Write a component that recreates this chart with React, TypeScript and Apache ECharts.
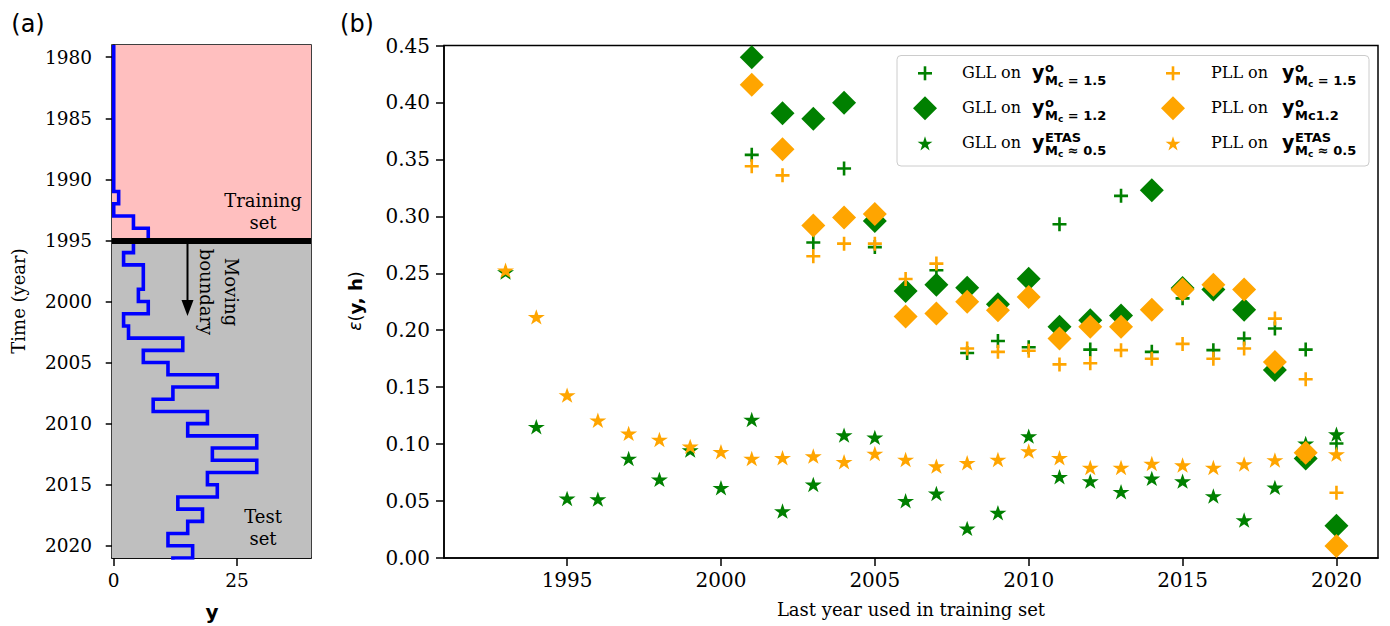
import React, { useEffect, useRef } from "react";
import * as echarts from "echarts";

// ---------- Panel (a): yearly counts (step line) ----------
const countYears = [
  1979, 1980, 1981, 1982, 1983, 1984, 1985, 1986, 1987, 1988, 1989, 1990,
  1991, 1992, 1993, 1994, 1995, 1996, 1997, 1998, 1999, 2000, 2001, 2002,
  2003, 2004, 2005, 2006, 2007, 2008, 2009, 2010, 2011, 2012, 2013, 2014,
  2015, 2016, 2017, 2018, 2019, 2020, 2021,
];
const counts = [
  0, 0, 0, 0, 0, 0, 0, 0, 0, 0, 0, 0,
  1, 0, 4, 7, 4, 2, 6, 6, 5, 7, 2, 3,
  14, 6, 11, 21, 12, 8, 19, 15, 29, 20, 29, 19,
  21, 13, 18, 15, 11, 16, 12,
];
const timeTicks = [1980, 1985, 1990, 1995, 2000, 2005, 2010, 2015, 2020];
const countTicks = [0, 25];
const boundaryYear = 1995;

// ---------- Panel (b): errors ----------
const starYears = [
  1993, 1994, 1995, 1996, 1997, 1998, 1999, 2000, 2001, 2002, 2003, 2004,
  2005, 2006, 2007, 2008, 2009, 2010, 2011, 2012, 2013, 2014, 2015, 2016,
  2017, 2018, 2019, 2020,
];
const obsYears = [
  2001, 2002, 2003, 2004, 2005, 2006, 2007, 2008, 2009, 2010, 2011, 2012,
  2013, 2014, 2015, 2016, 2017, 2018, 2019, 2020,
];
const gllPlus = [
  0.354, 0.358, 0.277, 0.342, 0.273, 0.236, 0.2526, 0.18, 0.1906, 0.185,
  0.293, 0.183, 0.318, 0.181, 0.228, 0.1825, 0.1927, 0.2015, 0.183, 0.1006,
];
const pllPlus = [
  0.344, 0.336, 0.265, 0.276, 0.276, 0.245, 0.2585, 0.184, 0.181, 0.182,
  0.17, 0.171, 0.1825, 0.175, 0.188, 0.175, 0.184, 0.2102, 0.157, 0.0573,
];
const gllDiamond = [
  0.4397, 0.3906, 0.3857, 0.3997, 0.296, 0.2345, 0.24, 0.2374, 0.2228, 0.2453,
  0.203, 0.2088, 0.213, 0.323, 0.237, 0.2357, 0.218, 0.165, 0.0874, 0.0284,
];
const pllDiamond = [
  0.4155, 0.359, 0.292, 0.299, 0.302, 0.212, 0.2146, 0.2249, 0.2175, 0.2292,
  0.1927, 0.203, 0.203, 0.218, 0.2357, 0.24, 0.2357, 0.172, 0.0924, 0.0105,
];
const gllStar = [
  0.251, 0.1152, 0.0523, 0.0517, 0.0874, 0.069, 0.0947, 0.0617, 0.1216, 0.0412,
  0.0646, 0.1079, 0.1059, 0.0503, 0.0567, 0.026, 0.0398, 0.107, 0.0713, 0.0675,
  0.0582, 0.0699, 0.0675, 0.0544, 0.0333, 0.062, 0.1006, 0.1088,
];
const pllStar = [
  0.2526, 0.2117, 0.143, 0.121, 0.1094, 0.104, 0.098, 0.0933, 0.0874, 0.088,
  0.0895, 0.0845, 0.0918, 0.0865, 0.0807, 0.0836, 0.0865, 0.0939, 0.088, 0.0795,
  0.0795, 0.083, 0.0816, 0.0795, 0.0825, 0.086, 0.092, 0.0912,
];
const yearTicks = [1995, 2000, 2005, 2010, 2015, 2020];

// ---------- styles ----------
const SERIF = '"DejaVu Serif", serif';
const SANS = '"DejaVu Sans", sans-serif';
const GREEN = "#008000";
const ORANGE = "#FFA500";
const BLUE = "#0000FF";
const PINK = "#FFBFBF";
const GREY = "#BFBFBF";

const starPoints = (cx: number, cy: number, R: number) => {
  const pts: number[][] = [];
  for (let i = 0; i < 10; i++) {
    const a = ((-90 + 36 * i) * Math.PI) / 180;
    const r = i % 2 === 0 ? R : R * 0.381966;
    pts.push([cx + r * Math.cos(a), cy + r * Math.sin(a)]);
  }
  return pts;
};
const STAR_PATH =
  "path://" +
  starPoints(0, 0, 10)
    .map((p, i) => (i === 0 ? "M" : "L") + p[0].toFixed(3) + " " + p[1].toFixed(3))
    .join(" ") +
  " Z";
const PLUS_PATH =
  "path://M5.7,0 H8.3 V5.7 H14 V8.3 H8.3 V14 H5.7 V8.3 H0 V5.7 H5.7 Z";

const pair = (xs: number[], ys: number[]) => xs.map((x, i) => [x, ys[i]]);

const stepPoints: number[][] = [];
countYears.forEach((y, i) => {
  stepPoints.push([counts[i], y]);
  stepPoints.push([counts[i], y + 1]);
});

const tickFontA = { fontFamily: SERIF, fontSize: 18.5, color: "#000" };
const tickFontB = { fontFamily: SERIF, fontSize: 20, color: "#000" };
const blackLine = { color: "#000", width: 1.5 };

// ---------- legend (graphic) ----------
const legendRows = [73.3, 108.3, 143.3];
const legendCols = [
  { mx: 925, tx: 962, yx: 1032, name: "GLL on", color: GREEN },
  { mx: 1173, tx: 1211, yx: 1282, name: "PLL on", color: ORANGE },
];
const subRich = {
  m: { fontFamily: SANS, fontWeight: "bold", fontSize: 13, fill: "#000", lineHeight: 16 },
  c: { fontFamily: SANS, fontWeight: "bold", fontSize: 9, fill: "#000", verticalAlign: "bottom", lineHeight: 16 },
};
const legendScripts = [
  [
    { sup: "o", sub: "{m|M}{c|c}{m| = 1.5}" },
    { sup: "o", sub: "{m|M}{c|c}{m| = 1.2}" },
    { sup: "ETAS", sub: "{m|M}{c|c}{m| ≈ 0.5}" },
  ],
  [
    { sup: "o", sub: "{m|M}{c|c}{m| = 1.5}" },
    { sup: "o", sub: "{m|Mc1.2}" },
    { sup: "ETAS", sub: "{m|M}{c|c}{m| ≈ 0.5}" },
  ],
];

function legendGraphics() {
  const els: any[] = [
    {
      type: "rect",
      shape: { x: 897, y: 55.5, width: 472, height: 110.5, r: 4 },
      style: { fill: "rgba(255,255,255,0.8)", stroke: "#cccccc", lineWidth: 1 },
      z: 100,
    },
  ];
  legendCols.forEach((col, ci) => {
    legendRows.forEach((ry, ri) => {
      if (ri === 0) {
        els.push({ type: "rect", shape: { x: col.mx - 7, y: ry - 1.3, width: 14, height: 2.6 }, style: { fill: col.color }, z: 101 });
        els.push({ type: "rect", shape: { x: col.mx - 1.3, y: ry - 7, width: 2.6, height: 14 }, style: { fill: col.color }, z: 101 });
      } else if (ri === 1) {
        els.push({
          type: "polygon",
          shape: { points: [[col.mx, ry - 12], [col.mx + 12, ry], [col.mx, ry + 12], [col.mx - 12, ry]] },
          style: { fill: col.color },
          z: 101,
        });
      } else {
        els.push({ type: "polygon", shape: { points: starPoints(col.mx, ry + 0.8, 7.8) }, style: { fill: col.color }, z: 101 });
      }
      els.push({
        type: "text", x: col.tx, y: ry - 1, z: 101,
        style: { text: col.name, font: `16px ${SERIF}`, fill: "#000", align: "left", verticalAlign: "middle" },
      });
      els.push({
        type: "text", x: col.yx, y: ry - 1, z: 101,
        style: { text: "y", font: `bold 19px ${SANS}`, fill: "#000", align: "left", verticalAlign: "middle" },
      });
      const sc = legendScripts[ci][ri];
      els.push({
        type: "text", x: col.yx + 13, y: ry - 6, z: 101,
        style: { text: sc.sup, font: `bold 13px ${SANS}`, fill: "#000", align: "left", verticalAlign: "middle" },
      });
      els.push({
        type: "text", x: col.yx + 13, y: ry + 7.5, z: 101,
        style: { text: sc.sub, rich: subRich, fill: "#000", align: "left", verticalAlign: "middle" },
      });
    });
  });
  return els;
}

const scatterBase = { type: "scatter", xAxisIndex: 1, yAxisIndex: 1, silent: true };

function buildOption(): any {
  return {
    animation: false,
    backgroundColor: "#fff",
    grid: [
      { left: 112, top: 45, width: 199, height: 513, show: true, borderColor: "#000", borderWidth: 1.5, backgroundColor: "transparent" },
      { left: 444, top: 45.5, width: 934, height: 512.5, show: true, borderColor: "#000", borderWidth: 1.5, backgroundColor: "transparent" },
    ],
    xAxis: [
      {
        gridIndex: 0, type: "value", min: -0.35, max: 40,
        axisLine: { show: true, lineStyle: blackLine },
        axisTick: { show: true, length: 8, lineStyle: blackLine, customValues: countTicks },
        axisLabel: { ...tickFontA, margin: 13, customValues: countTicks, formatter: (v: number) => String(v) },
        splitLine: { show: false },
      },
      {
        gridIndex: 1, type: "value", min: 1991, max: 2021.35,
        axisLine: { show: true, lineStyle: blackLine },
        axisTick: { show: true, length: 8, lineStyle: blackLine, customValues: yearTicks },
        axisLabel: { ...tickFontB, margin: 12, customValues: yearTicks, formatter: (v: number) => String(v) },
        splitLine: { show: false },
      },
    ],
    yAxis: [
      {
        gridIndex: 0, type: "value", min: 1979, max: 2021, inverse: true,
        axisLine: { show: true, lineStyle: blackLine },
        axisTick: { show: true, length: 8, lineStyle: blackLine, customValues: timeTicks },
        axisLabel: { ...tickFontA, margin: 20, customValues: timeTicks, formatter: (v: number) => String(v) },
        splitLine: { show: false },
      },
      {
        gridIndex: 1, type: "value", min: 0, max: 0.45, interval: 0.05,
        axisLine: { show: true, lineStyle: blackLine },
        axisTick: { show: true, length: 8, lineStyle: blackLine },
        axisLabel: { ...tickFontB, margin: 14, formatter: (v: number) => v.toFixed(2) },
        splitLine: { show: false },
      },
    ],
    series: [
      {
        type: "line", xAxisIndex: 0, yAxisIndex: 0, data: stepPoints, symbol: "none",
        lineStyle: { color: BLUE, width: 3.6, join: "miter" }, clip: true, silent: true,
        markArea: {
          silent: true,
          data: [
            [{ yAxis: 1979, itemStyle: { color: PINK, opacity: 1 } }, { yAxis: boundaryYear }],
            [{ yAxis: boundaryYear, itemStyle: { color: GREY, opacity: 1 } }, { yAxis: 2021 }],
          ],
        },
        markLine: {
          silent: true, symbol: ["none", "none"], label: { show: false },
          lineStyle: { color: "#000", width: 6, type: "solid", opacity: 1 },
          data: [{ yAxis: boundaryYear }],
        },
      },
      { ...scatterBase, name: "GLL plus", data: pair(obsYears, gllPlus), symbol: PLUS_PATH, symbolSize: 14, itemStyle: { color: GREEN, opacity: 1 } },
      { ...scatterBase, name: "GLL diamond", data: pair(obsYears, gllDiamond), symbol: "diamond", symbolSize: 24, itemStyle: { color: GREEN, opacity: 1 } },
      { ...scatterBase, name: "GLL star", data: pair(starYears, gllStar), symbol: STAR_PATH, symbolSize: [17, 16.2], symbolKeepAspect: true, itemStyle: { color: GREEN, opacity: 1 } },
      { ...scatterBase, name: "PLL plus", data: pair(obsYears, pllPlus), symbol: PLUS_PATH, symbolSize: 14, itemStyle: { color: ORANGE, opacity: 1 } },
      { ...scatterBase, name: "PLL diamond", data: pair(obsYears, pllDiamond), symbol: "diamond", symbolSize: 24, itemStyle: { color: ORANGE, opacity: 1 } },
      { ...scatterBase, name: "PLL star", data: pair(starYears, pllStar), symbol: STAR_PATH, symbolSize: [17, 16.2], symbolKeepAspect: true, itemStyle: { color: ORANGE, opacity: 1 } },
    ],
    graphic: [
      { type: "text", x: 28, y: 24, style: { text: "(a)", font: `24px ${SANS}`, fill: "#000", align: "center", verticalAlign: "middle" } },
      { type: "text", x: 357, y: 24, style: { text: "(b)", font: `24px ${SANS}`, fill: "#000", align: "center", verticalAlign: "middle" } },
      { type: "text", x: 18, y: 301, rotation: Math.PI / 2, style: { text: "Time (year)", font: `18px ${SERIF}`, fill: "#000", align: "center", verticalAlign: "middle" } },
      { type: "text", x: 212, y: 612, style: { text: "y", font: `bold 20px ${SANS}`, fill: "#000", align: "center", verticalAlign: "middle" } },
      { type: "text", x: 263, y: 211, z: 50, style: { text: "Training\nset", font: `18px ${SERIF}`, lineHeight: 22, fill: "#000", align: "center", verticalAlign: "middle" } },
      { type: "text", x: 263, y: 527, z: 50, style: { text: "Test\nset", font: `18px ${SERIF}`, lineHeight: 22, fill: "#000", align: "center", verticalAlign: "middle" } },
      { type: "text", x: 219, y: 292, z: 50, rotation: -Math.PI / 2, style: { text: "Moving\nboundary", font: `18px ${SERIF}`, lineHeight: 25, fill: "#000", align: "center", verticalAlign: "middle" } },
      { type: "line", z: 50, shape: { x1: 187.5, y1: 244, x2: 187.5, y2: 302 }, style: { stroke: "#000", lineWidth: 2 } },
      { type: "polygon", z: 50, shape: { points: [[181.5, 300], [193.5, 300], [187.5, 316]] }, style: { fill: "#000" } },
      {
        type: "text", x: 355, y: 301, rotation: Math.PI / 2,
        style: {
          text: "{e|ε}{p|(}{b|y, h}{p|)}",
          rich: {
            e: { fontFamily: SANS, fontStyle: "italic", fontSize: 17, fill: "#000" },
            p: { fontFamily: SANS, fontSize: 18, fill: "#000" },
            b: { fontFamily: SANS, fontWeight: "bold", fontSize: 18, fill: "#000" },
          },
          align: "center", verticalAlign: "middle",
        },
      },
      { type: "text", x: 911, y: 609, style: { text: "Last year used in training set", font: `18px ${SERIF}`, fill: "#000", align: "center", verticalAlign: "middle" } },
      ...legendGraphics(),
    ],
  };
}

export default function App() {
  const ref = useRef<HTMLDivElement>(null);
  useEffect(() => {
    document.body.style.margin = "0";
    const chart = echarts.init(ref.current as HTMLDivElement, null, { renderer: "svg" });
    chart.setOption(buildOption());
    return () => chart.dispose();
  }, []);
  return <div ref={ref} style={{ width: 1390, height: 626, position: "absolute", left: 0, top: 0 }} />;
}
